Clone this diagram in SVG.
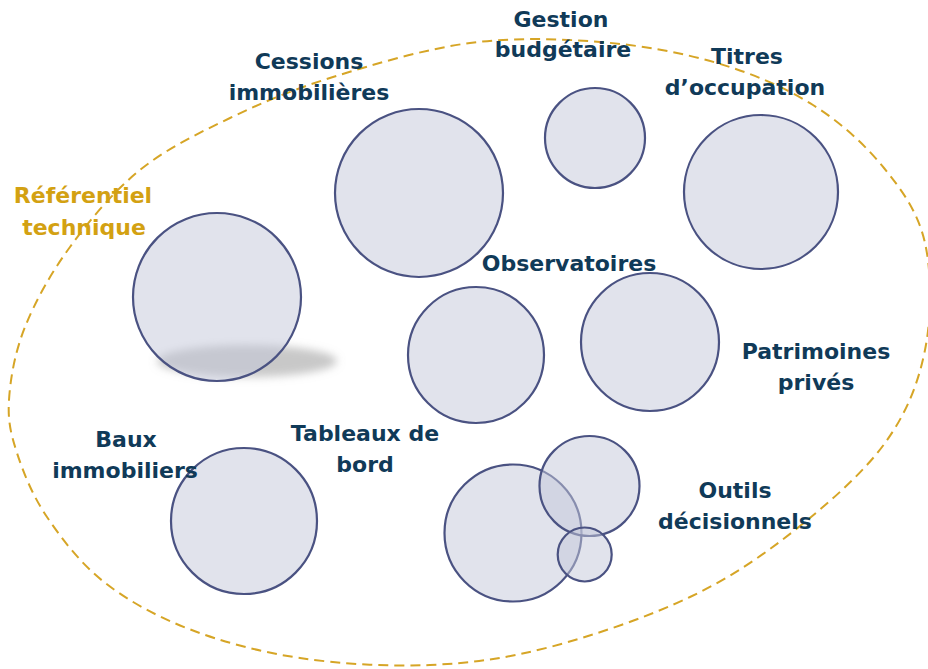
<svg xmlns="http://www.w3.org/2000/svg" width="928" height="669" viewBox="0 0 928 669">
  <style>
    .c { fill: #c3c8da; fill-opacity: 0.5; stroke: #4a5282; stroke-width: 2.2; }
    .t { font-family: "DejaVu Sans", "Liberation Sans", sans-serif; font-weight: bold; font-size: 22px; fill: #103a58; text-anchor: middle; }
    .g { fill: #d3a112; }
    .b { fill: none; stroke: #d6a526; stroke-width: 2; stroke-dasharray: 10 6; }
  </style>
  <defs>
    <filter id="blur" x="-30%" y="-100%" width="160%" height="300%">
      <feGaussianBlur stdDeviation="4"/>
    </filter>
  </defs>
  <rect width="928" height="669" fill="#ffffff"/>

  <g id="boundary">
    <path class="b" d="M9,400 C10.3,379 14.8,352.5 25,327 C35.2,301.5 50.8,273.2 70,247 C89.2,220.8 113.3,191.5 140,170 C166.7,148.5 197.8,133.5 230,118 C262.2,102.5 293,89.5 333,77 C373,64.5 425.5,48.8 470,43 C514.5,37.2 558.8,38.7 600,42 C641.2,45.3 681.5,52.5 717,63 C752.5,73.5 785.2,87.5 813,105 C840.8,122.5 865.3,145 884,168 C902.7,191 918.2,212.7 925,243 C931.8,273.3 931.7,316.7 925,350 C918.3,383.3 906.7,413 885,443 C863.3,473 827.5,504.3 795,530 C762.5,555.7 730.8,577.5 690,597 C649.2,616.5 593.3,635.7 550,647 C506.7,658.3 471.7,663.2 430,665 C388.3,666.8 340.2,664 300,658 C259.8,652 221.7,641.7 189,629 C156.3,616.3 127.7,600.7 104,582 C80.3,563.3 61.5,538.5 47,517 C32.5,495.5 23.3,472.5 17,453 C10.7,433.5 7.7,421 9,400 Z"/>
  </g>

  <g id="connectors"></g>

  <g id="referentiel">
    <ellipse cx="247" cy="361" rx="90" ry="16" fill="#9a9a9a" fill-opacity="0.55" filter="url(#blur)"/>
    <circle class="c" cx="217" cy="297" r="84"/>
    <text class="t g" x="83" y="203">Référentiel</text>
    <text class="t g" x="84" y="235">technique</text>
  </g>

  <g id="cessions">
    <circle class="c" cx="419" cy="193" r="84"/>
    <text class="t" x="309" y="69">Cessions</text>
    <text class="t" x="309" y="100">immobilières</text>
  </g>

  <g id="gestion">
    <circle class="c" cx="595" cy="138" r="50"/>
    <text class="t" x="561" y="27">Gestion</text>
    <text class="t" x="563" y="57">budgétaire</text>
  </g>

  <g id="titres">
    <circle class="c" cx="761" cy="192" r="77"/>
    <text class="t" x="747" y="64">Titres</text>
    <text class="t" x="745" y="95">d’occupation</text>
  </g>

  <g id="observatoires">
    <circle class="c" cx="476" cy="355" r="68"/>
    <text class="t" x="569" y="271">Observatoires</text>
  </g>

  <g id="patrimoines">
    <circle class="c" cx="650" cy="342" r="69"/>
    <text class="t" x="816" y="359">Patrimoines</text>
    <text class="t" x="816" y="390">privés</text>
  </g>

  <g id="baux">
    <circle class="c" cx="244" cy="521" r="73"/>
    <text class="t" x="126" y="447">Baux</text>
    <text class="t" x="125" y="478">immobiliers</text>
  </g>

  <g id="tableaux">
    <circle class="c" cx="513" cy="533" r="68.5"/>
    <text class="t" x="365" y="441">Tableaux de</text>
    <text class="t" x="365" y="472">bord</text>
  </g>

  <g id="outils">
    <circle class="c" cx="589.5" cy="486" r="50"/>
    <circle class="c" cx="584.7" cy="554.5" r="27"/>
    <text class="t" x="735" y="498">Outils</text>
    <text class="t" x="735" y="529">décisionnels</text>
  </g>
</svg>
